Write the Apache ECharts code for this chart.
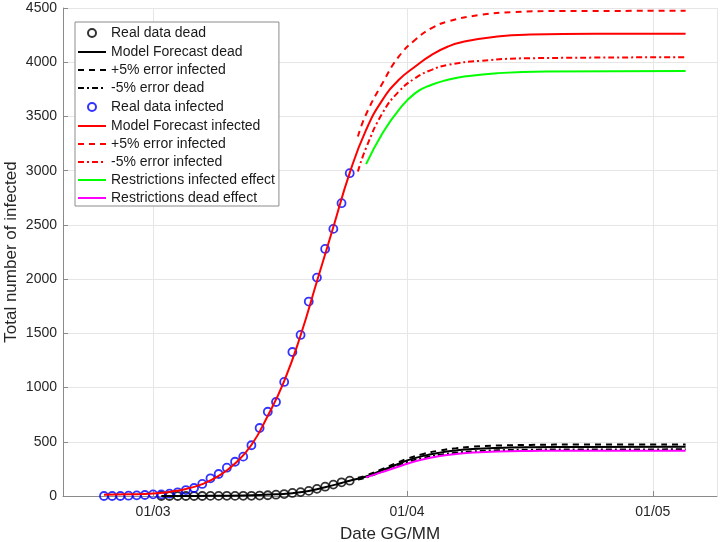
<!DOCTYPE html>
<html>
<head>
<meta charset="utf-8">
<script src="https://cdn.jsdelivr.net/npm/echarts@6/dist/echarts.min.js"></script>
<style>
  html, body { margin: 0; padding: 0; background: #fff; }
  #chart { width: 722px; height: 542px; }
</style>
</head>
<body>
<div id="chart"></div>
<script>
// real data, one value per day
var realInfectedStart = '2020-02-24';
var realInfected = [0, 0, 0, 3, 6, 9, 15, 15, 21, 34, 55, 74, 111, 163, 203, 261, 316, 363, 468, 627,
  777, 867, 1052, 1328, 1485, 1793, 2014, 2278, 2463, 2700, 2977];
var realDeadStart = '2020-03-02';
var realDead = [0, 0, 0, 0, 0, 0, 1, 1, 2, 1, 2, 2, 4, 7, 12, 18, 28, 36, 47, 66, 86, 105, 126, 141];

// model curves
var modelInfDates = ['2020-02-24', '2020-02-27', '2020-03-01', '2020-03-03', '2020-03-05', '2020-03-07',
  '2020-03-09', '2020-03-11', '2020-03-13', '2020-03-15', '2020-03-17', '2020-03-19', '2020-03-21',
  '2020-03-23', '2020-03-25', '2020-03-27', '2020-03-29', '2020-03-31', '2020-04-02', '2020-04-04',
  '2020-04-06', '2020-04-08', '2020-04-12', '2020-04-16', '2020-04-24', '2020-05-05'];
var modelInf = [12, 15, 22, 38, 65, 110, 185, 300, 470, 740, 1060, 1480, 1980, 2480, 2980, 3376, 3653,
  3838, 3960, 4068, 4145, 4191, 4237, 4255, 4262, 4262];

var plusInfDates = ['2020-03-26', '2020-03-27', '2020-03-29', '2020-03-31', '2020-04-02', '2020-04-04',
  '2020-04-06', '2020-04-10', '2020-04-14', '2020-04-20', '2020-05-05'];
var plusInf = [3315, 3520, 3807, 4053, 4207, 4314, 4376, 4437, 4462, 4472, 4474];

var minusInfDates = ['2020-03-26', '2020-03-27', '2020-03-29', '2020-03-31', '2020-04-02', '2020-04-04',
  '2020-04-06', '2020-04-10', '2020-04-16', '2020-05-05'];
var minusInf = [2992, 3210, 3531, 3730, 3853, 3930, 3976, 4013, 4037, 4046];

var restrInfDates = ['2020-03-27', '2020-03-29', '2020-03-31', '2020-04-02', '2020-04-04', '2020-04-06',
  '2020-04-08', '2020-04-12', '2020-04-18', '2020-05-05'];
var restrInf = [3060, 3346, 3561, 3715, 3792, 3838, 3868, 3899, 3915, 3920];

var modelDeadDates = ['2020-03-02', '2020-03-06', '2020-03-10', '2020-03-12', '2020-03-14', '2020-03-16',
  '2020-03-18', '2020-03-20', '2020-03-22', '2020-03-24', '2020-03-25', '2020-03-27', '2020-03-29',
  '2020-03-31', '2020-04-01', '2020-04-03', '2020-04-05', '2020-04-07', '2020-04-09', '2020-04-12',
  '2020-04-16', '2020-04-22', '2020-05-05'];
var modelDead = [0, 1, 3, 5, 9, 15, 26, 46, 80, 120, 141, 180, 238, 298, 328, 370, 400, 420, 433, 443,
  449, 452, 453];

var errDeadDates = ['2020-03-26', '2020-03-27', '2020-03-29', '2020-03-31', '2020-04-01', '2020-04-03',
  '2020-04-05', '2020-04-07', '2020-04-09', '2020-04-12', '2020-04-16', '2020-04-22', '2020-05-05'];
var plusDead = [168, 189, 250, 313, 344, 388, 420, 441, 455, 465, 471, 475, 476];
var minusDead = [152, 171, 226, 283, 312, 352, 380, 399, 411, 421, 427, 429, 430];

var restrDeadDates = ['2020-03-27', '2020-03-29', '2020-03-31', '2020-04-01', '2020-04-03', '2020-04-05',
  '2020-04-07', '2020-04-09', '2020-04-12', '2020-04-16', '2020-04-22', '2020-05-05'];
var restrDead = [172, 222, 272, 298, 338, 368, 388, 400, 410, 415, 418, 418];

var yTicks = { min: 0, max: 4500, interval: 500 };

function daily(start, values) {
  var d = new Date(start + 'T00:00:00');
  var out = [];
  for (var i = 0; i < values.length; i++) {
    out.push([new Date(d.getFullYear(), d.getMonth(), d.getDate() + i).getTime(), values[i]]);
  }
  return out;
}
function pairs(dates, values) {
  return dates.map(function (d, i) { return [d, values[i]]; });
}
function pad(n) { return n < 10 ? '0' + n : '' + n; }

var font = "'Liberation Sans', Arial, sans-serif";
var axisGray = '#8a8a8a';
var circleIcon = 'path://M0,0M28,14M10,7a4,4 0 1,0 8,0a4,4 0 1,0 -8,0';

var names = ['Real data dead', 'Model Forecast dead', '+5% error infected', '-5% error dead',
  'Real data infected', 'Model Forecast infected', '+5% error infected ', '-5% error infected',
  'Restrictions infected effect', 'Restrictions dead effect'];

function line(name, data, color, type) {
  return {
    name: name, type: 'line', data: data, symbol: 'none', smooth: 0.5,
    lineStyle: { color: color, width: 2, type: type || 'solid' },
    itemStyle: { color: color }
  };
}
function dots(name, data, color) {
  return {
    name: name, type: 'scatter', data: data, symbolSize: 8,
    itemStyle: { color: 'rgba(0,0,0,0)', borderColor: color, borderWidth: 1.8 }
  };
}

var chart = echarts.init(document.getElementById('chart'));
chart.setOption({
  animation: false,
  backgroundColor: '#fff',
  textStyle: { fontFamily: font },
  grid: { left: 63, right: 5, top: 8, bottom: 46, outerBoundsMode: 'none', containLabel: false },
  legend: {
    orient: 'vertical', left: 75, top: 22,
    padding: [3, 4, 1, 2], itemGap: 4, itemWidth: 28, itemHeight: 14,
    backgroundColor: '#fff', borderColor: '#8c8c8c', borderWidth: 1, borderRadius: 0,
    textStyle: { fontFamily: font, fontSize: 14, color: '#1a1a1a' },
    data: names.map(function (n) {
      if (n === 'Real data dead' || n === 'Real data infected') return { name: n, icon: circleIcon };
      return { name: n, itemStyle: { opacity: 0 } };
    })
  },
  xAxis: {
    type: 'time',
    min: new Date(2020, 1, 19).getTime(),
    max: new Date(2020, 4, 8, 20).getTime(),
    minInterval: 28 * 86400000, maxInterval: 31 * 86400000,
    name: 'Date GG/MM', nameLocation: 'middle', nameGap: 30, nameMoveOverlap: false,
    nameTextStyle: { fontFamily: font, fontSize: 17, color: '#262626' },
    axisLine: { lineStyle: { color: axisGray } },
    axisTick: { inside: true, length: 5, lineStyle: { color: axisGray } },
    axisLabel: {
      fontFamily: font, fontSize: 14, color: '#262626', margin: 9,
      formatter: function (v) { var d = new Date(v); return pad(d.getDate()) + '/' + pad(d.getMonth() + 1); }
    },
    splitLine: { show: true, lineStyle: { color: '#e6e6e6' } }
  },
  yAxis: {
    type: 'value', min: yTicks.min, max: yTicks.max, interval: yTicks.interval,
    name: 'Total number of infected', nameLocation: 'middle', nameGap: 43, nameMoveOverlap: false,
    nameTextStyle: { fontFamily: font, fontSize: 17, color: '#262626' },
    axisLine: { show: true, lineStyle: { color: axisGray } },
    axisTick: { show: true, inside: true, length: 5, lineStyle: { color: axisGray } },
    axisLabel: { fontFamily: font, fontSize: 14, color: '#262626', margin: 6,
      formatter: function (v) { return String(v); } },
    splitLine: { show: true, lineStyle: { color: '#e6e6e6' } }
  },
  series: [
    dots(names[0], daily(realDeadStart, realDead), '#000000'),
    line(names[1], pairs(modelDeadDates, modelDead), '#000000'),
    line(names[2], pairs(errDeadDates, plusDead), '#000000', [6, 5]),
    line(names[3], pairs(errDeadDates, minusDead), '#000000', [6, 3, 2, 3]),
    dots(names[4], daily(realInfectedStart, realInfected), '#0000ff'),
    line(names[5], pairs(modelInfDates, modelInf), '#ff0000'),
    line(names[6], pairs(plusInfDates, plusInf), '#ff0000', [6, 5]),
    line(names[7], pairs(minusInfDates, minusInf), '#ff0000', [6, 3, 2, 3]),
    line(names[8], pairs(restrInfDates, restrInf), '#00ff00'),
    line(names[9], pairs(restrDeadDates, restrDead), '#ff00ff')
  ]
});
</script>
</body>
</html>
